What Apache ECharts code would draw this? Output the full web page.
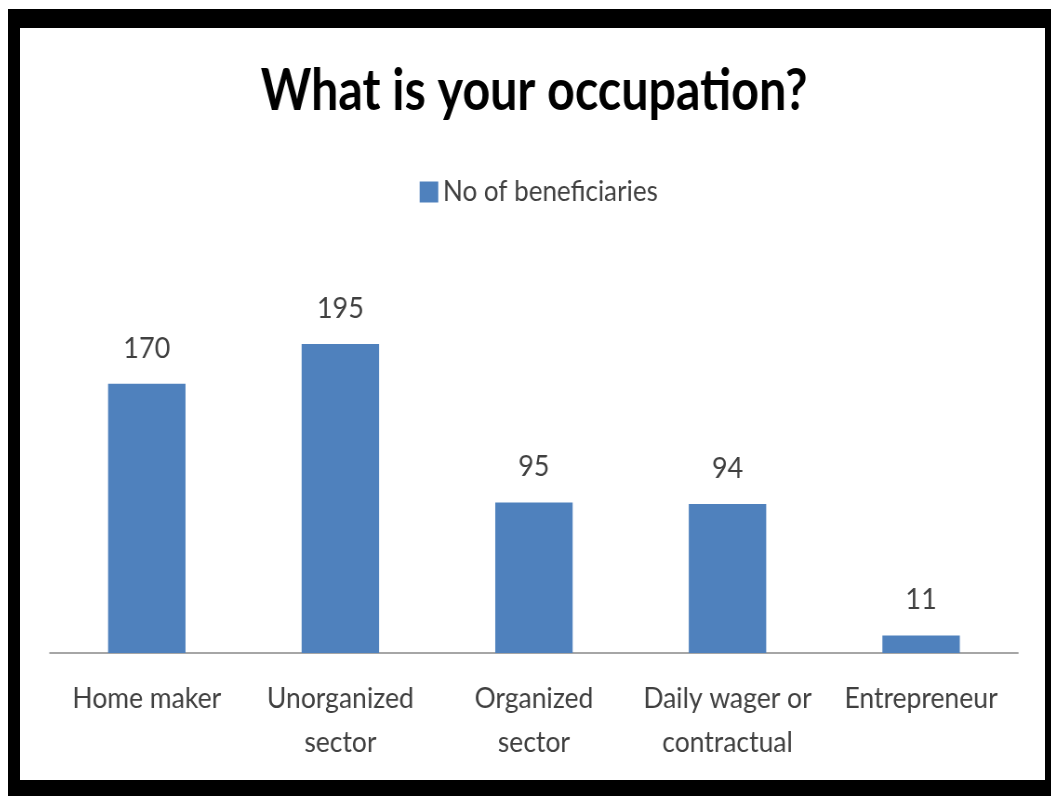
<!DOCTYPE html>
<html>
<head>
<meta charset="utf-8">
<script src="https://cdn.jsdelivr.net/npm/echarts@6/dist/echarts.min.js"></script>
<style>
  html, body { margin: 0; padding: 0; background: #fff; overflow: hidden; }
  #frame { position: absolute; left: 8px; top: 9px; width: 1043px; height: 787px; background: #000; }
  #panel { position: absolute; left: 20px; top: 28px; width: 1025px; height: 752px; background: #fff; overflow: hidden; }
  /* the chart is laid out a little wider and squeezed horizontally for condensed lettering */
  #chart { position: absolute; left: 0; top: 0; height: 752px; transform-origin: 0 0; }
</style>
</head>
<body>
<div id="frame"></div>
<div id="panel"><div id="chart"></div></div>
<script>
const categories = ['Home maker', 'Unorganized\nsector', 'Organized\nsector', 'Daily wager or\ncontractual', 'Entrepreneur'];
const beneficiaries = [170, 195, 95, 94, 11];
const seriesName = 'No of beneficiaries';
const titleText = 'What is your occupation?';

const squeeze = 0.93;
const panelWidth = 1025;
const chartEl = document.getElementById('chart');
chartEl.style.width = (panelWidth / squeeze) + 'px';
chartEl.style.transform = 'scaleX(' + squeeze + ')';

const chart = echarts.init(chartEl);
const textColor = '#404040';
const font = "Lato, 'Open Sans', sans-serif";

chart.setOption({
  animation: false,
  graphic: [{
    type: 'text',
    x: 514 / squeeze,
    y: 63,
    scaleY: 1.12,
    style: {
      text: titleText,
      fill: '#000',
      fontFamily: font,
      fontWeight: 'bold',
      fontSize: 52,
      align: 'center',
      verticalAlign: 'middle'
    }
  }],
  legend: {
    data: [seriesName],
    left: 395 / squeeze,
    top: 145,
    itemWidth: 20,
    itemHeight: 21,
    icon: 'rect',
    textStyle: { fontFamily: font, fontSize: 28, color: textColor }
  },
  grid: { left: 30 / squeeze, right: 27 / squeeze, top: 229, bottom: 127, containLabel: false },
  xAxis: {
    type: 'category',
    data: categories,
    axisTick: { show: false },
    axisLine: { lineStyle: { color: '#a6a6a6', width: 2 } },
    axisLabel: {
      fontFamily: font, fontSize: 28.5, color: textColor,
      margin: 24, lineHeight: 44, interval: 0
    }
  },
  yAxis: {
    type: 'value',
    min: 0, max: 250, interval: 50,
    show: false,
    splitLine: { show: false }
  },
  series: [{
    name: seriesName,
    type: 'bar',
    data: beneficiaries,
    barWidth: '40%',
    itemStyle: { color: '#4f81bd' },
    label: {
      show: true, position: 'top', distance: 21,
      fontFamily: font, fontSize: 29, color: textColor
    }
  }]
});
</script>
</body>
</html>
